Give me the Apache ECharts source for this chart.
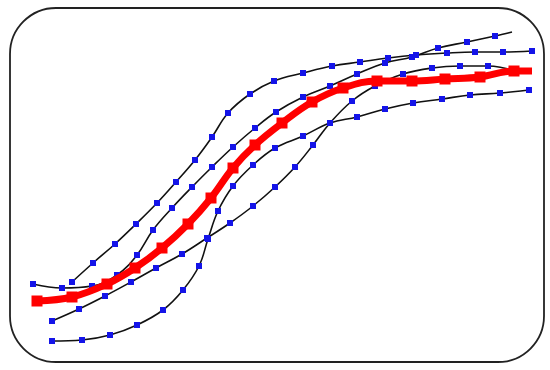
<!DOCTYPE html>
<html>
<head>
<meta charset="utf-8">
<script src="https://cdn.jsdelivr.net/npm/echarts@6/dist/echarts.min.js"></script>
<style>
html,body{margin:0;padding:0;background:#fff;}
#chart{width:550px;height:370px;}
</style>
</head>
<body>
<div id="chart"></div>
<script>
// Values (x grows right, y grows downward)
const curveP = [[72,282],[93,263],[115,244],[136,224],[157,203],[176,182],[195,160],[212,137],[228,113],[250,94],[274,81],[303,73],[332,66],[360,62],[388,58],[416,55],[447,53],[475,52],[503,52],[532,51]];
const curveR = [[33,284],[62,288],[92,286],[117,275],[137,255],[153,230],[172,208],[192,187],[212,167],[233,147],[255,128],[276,112],[303,97],[330,86],[357,74],[385,63],[412,57],[438,48],[467,42],[495,36]];
const curveREnd = [512,32];
const curveX = [[52,341],[82,340],[110,335],[137,325],[163,310],[183,290],[199,266],[208,239],[218,211],[233,186],[253,165],[275,148],[303,136],[330,123],[357,117],[385,109],[413,103],[442,99],[470,95],[500,93],[529,90]];
const curveY = [[52,321],[79,309],[105,296],[131,282],[156,268],[182,254],[207,238],[230,223],[253,206],[275,187],[295,167],[313,145],[330,123],[352,101],[375,86],[403,74],[432,68],[460,66],[488,66],[515,71]];
const curveRed = [[37,301],[72,297],[107,284],[135,268],[162,248],[188,224],[211,198],[233,168],[255,145],[282,123],[312,102],[343,88],[377,81],[412,81],[445,79],[480,77],[514,71]];
const curveRedEnd = [532,71];

function blackSeries(name, pts, endPt) {
  const data = pts.map(p => p.slice());
  if (endPt) data.push({ value: endPt, symbol: 'none' });
  return {
    name: name, type: 'line', data: data, smooth: 0.4,
    symbol: 'rect', symbolSize: 6,
    itemStyle: { color: '#1414e8' },
    lineStyle: { color: '#111', width: 1.6 },
    z: 2
  };
}

const chart = echarts.init(document.getElementById('chart'), null, { renderer: 'canvas' });
chart.setOption({
  animation: false,
  backgroundColor: '#fff',
  grid: { left: 0, right: 0, top: 0, bottom: 0 },
  xAxis: { type: 'value', min: 0, max: 550, show: false },
  yAxis: { type: 'value', min: 0, max: 370, inverse: true, show: false },
  graphic: [{
    type: 'rect',
    shape: { x: 10, y: 8, width: 534, height: 354, r: 46 },
    style: { fill: 'none', stroke: '#222', lineWidth: 1.8 },
    z: 100
  }],
  series: [
    blackSeries('P', curveP),
    blackSeries('R', curveR, curveREnd),
    blackSeries('X', curveX),
    blackSeries('Y', curveY),
    {
      name: 'Red', type: 'line', smooth: 0.4,
      data: curveRed.map(p => p.slice()).concat([{ value: curveRedEnd, symbol: 'none' }]),
      symbol: 'rect', symbolSize: 11,
      itemStyle: { color: '#ff0000' },
      lineStyle: { color: '#ff0000', width: 7 },
      z: 5
    }
  ]
});
</script>
</body>
</html>
